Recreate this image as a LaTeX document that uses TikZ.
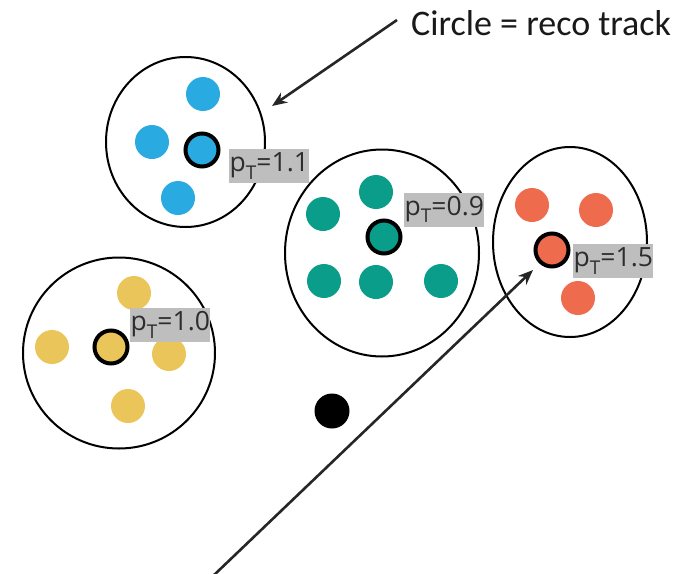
\documentclass[tikz,border=0pt]{standalone}
\usepackage{fontspec}
\setmainfont{Open Sans}
\newfontfamily\calib{Carlito}
\usetikzlibrary{shapes.geometric,arrows.meta}
\definecolor{cblue}{RGB}{41,171,226}
\definecolor{cteal}{RGB}{10,158,138}
\definecolor{cred}{RGB}{238,108,77}
\definecolor{cyel}{RGB}{234,197,90}
\definecolor{lblgray}{RGB}{190,190,190}
\definecolor{lbltext}{RGB}{45,45,45}
\newcommand{\ptlabel}[1]{p\raisebox{-0.28em}{\fontsize{19}{19}\selectfont T}=#1}
\begin{document}
\begin{tikzpicture}[x=1pt,y=-1pt,
  jet/.style={ellipse,draw=black,line width=2pt,inner sep=0pt},
  dot/.style={circle,inner sep=0pt,minimum size=34pt,fill=#1},
  reco/.style={circle,inner sep=0pt,minimum size=34pt,fill=#1,draw=black,line width=4pt},
  ptbox/.style={fill=lblgray,text=lbltext,font=\fontsize{26.5}{26.5}\selectfont,inner xsep=0.5pt,inner ysep=0pt,anchor=west,minimum height=34pt},
  arr/.style={draw=black!85,line width=2.6pt,-{Stealth[length=15pt,width=12pt]}}
]
\useasboundingbox (0,0) rectangle (688,573);
% jets
\node[jet,minimum width=159pt,minimum height=170pt] (jblue) at (185.5,142) {};
\node[jet,minimum width=194pt,minimum height=207pt] (jteal) at (382,253) {};
\node[jet,minimum width=154pt,minimum height=190pt] (jred) at (570,242) {};
\node[jet,minimum width=192pt,minimum height=191pt] (jyel) at (119,353) {};
% blue
\node[dot=cblue] (b1) at (203,94) {};
\node[dot=cblue] (b2) at (152,142) {};
\node[dot=cblue] (b3) at (178,198) {};
\node[reco=cblue,minimum size=33pt] (bc) at (202,150) {};
% teal
\node[dot=cteal] (t1) at (376,192) {};
\node[dot=cteal] (t2) at (323,214) {};
\node[dot=cteal] (t3) at (324,281) {};
\node[dot=cteal] (t4) at (376,282) {};
\node[dot=cteal] (t5) at (441,281) {};
\node[reco=cteal,minimum size=33pt] (tc) at (384,237) {};
% red
\node[dot=cred] (r1) at (532,205) {};
\node[dot=cred] (r2) at (596,210) {};
\node[dot=cred] (r3) at (578,298) {};
\node[reco=cred,minimum size=33pt] (rc) at (552,250) {};
% yellow
\node[dot=cyel] (y1) at (134,293) {};
\node[dot=cyel] (y2) at (52,347) {};
\node[dot=cyel] (y3) at (169,354) {};
\node[dot=cyel] (y4) at (128,406) {};
\node[reco=cyel,minimum size=33pt] (yc) at (111,347) {};
% labels
\node[ptbox] (lb) at (229,166) {\ptlabel{1.1}};
\node[ptbox] (lt) at (404,209.5) {\ptlabel{0.9}};
\node[ptbox] (lr) at (573,261) {\ptlabel{1.5}};
\node[ptbox] (ly) at (130,325) {\ptlabel{1.0}};
% black dot
\node[dot=black,minimum size=35pt] (bk) at (332,411) {};
% caption
\node[anchor=west,inner sep=0pt,font=\calib\fontsize{36}{36}\selectfont,text=black!90] (cap) at (411,23) {Circle = reco track};
\coordinate (capend) at (397,20);
\coordinate (captip) at (272,106);
\draw[arr] (capend) -- (captip);
\coordinate (trk) at (213,576);
\coordinate (trktip) at (533,270);
\draw[arr] (trk) -- (trktip);
\end{tikzpicture}
\end{document}
